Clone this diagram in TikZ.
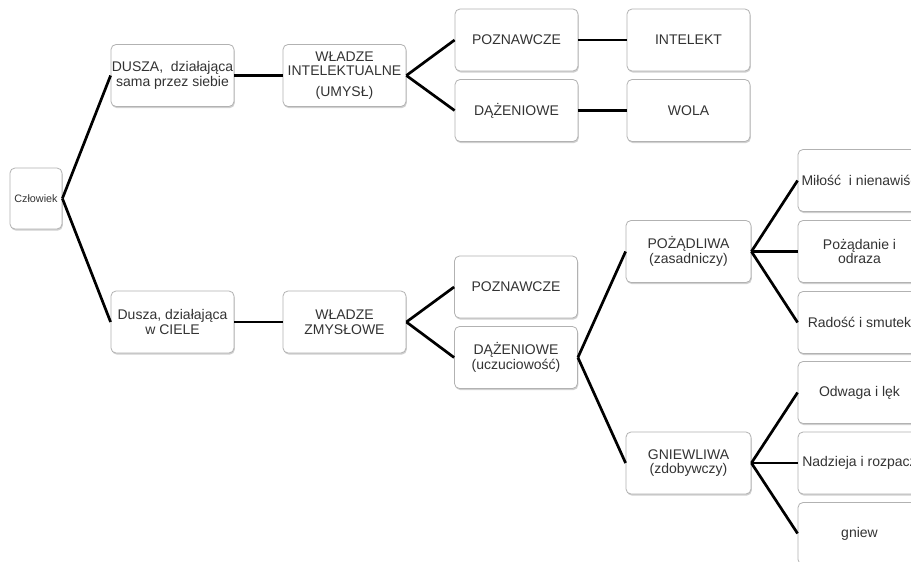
\documentclass[tikz,border=0pt]{standalone}
\usepackage{fontspec}
\setmainfont{Liberation Sans}
\usetikzlibrary{shadows}
\begin{document}
\begin{tikzpicture}[x=1pt,y=-1pt,
  box/.style={draw=black!30, line width=0.8pt, fill=white, rounded corners=5pt,
    minimum width=123pt, minimum height=62pt, inner sep=0pt, align=center,
    text=black!80, font=\fontsize{14}{14.5}\selectfont,
    drop shadow={shadow xshift=0.8pt, shadow yshift=-1.6pt, fill=black!30, opacity=0.6}},
  small/.style={box, minimum width=52pt, minimum height=61pt, font=\fontsize{10.8}{12}\selectfont},
  conn/.style={line width=2.7pt, black}]
\useasboundingbox (0,0) rectangle (911,562);
\clip (0,0) rectangle (911,562);
\fill[white] (0,0) rectangle (911,562);
% nodes
\node[small] (cz) at (36,198.5) {Człowiek};
\node[box] (dusza) at (172.5,75.5) {DUSZA,\ \ działająca\\sama przez siebie};
\node[box] (wint) at (344.5,75.5) {WŁADZE\\INTELEKTUALNE\\[6pt](UMYSŁ)};
\node[box] (pozn1) at (516.5,40) {POZNAWCZE};
\node[box] (daz1) at (516.5,110.5) {DĄŻENIOWE};
\node[box] (intel) at (688.5,40) {INTELEKT};
\node[box] (wola) at (688.5,110.5) {WOLA};
\node[box] (cial) at (172.5,322) {Dusza, działająca\\w CIELE};
\node[box] (wzm) at (344.5,322) {WŁADZE\\ZMYSŁOWE};
\node[box] (pozn2) at (516,287) {POZNAWCZE};
\node[box] (daz2) at (516,357.5) {DĄŻENIOWE\\(uczuciowość)};
\node[box, minimum width=125pt] (poz) at (688.5,251.5) {POŻĄDLIWA\\(zasadniczy)};
\node[box, minimum width=125pt] (gn) at (688.5,463) {GNIEWLIWA\\(zdobywczy)};
\node[box] (mil) at (859.5,180.5) {Miłość\ \ i nienawiść};
\node[box] (pod) at (859.5,251.5) {Pożądanie i\\odraza};
\node[box] (rad) at (859.5,322.5) {Radość i smutek};
\node[box] (odw) at (859.5,392.5) {Odwaga i lęk};
\node[box] (nad) at (859.5,463) {Nadzieja i rozpacz};
\node[box] (gniew) at (859.5,533.5) {gniew};
% connectors
\draw[conn] (cz.east) -- (dusza.west);
\draw[conn] (cz.east) -- (cial.west);
\draw[conn] (dusza.east) -- (wint.west);
\draw[conn] (wint.east) -- (pozn1.west);
\draw[conn] (wint.east) -- (daz1.west);
\draw[conn] (pozn1.east) -- (intel.west);
\draw[conn] (daz1.east) -- (wola.west);
\draw[conn] (cial.east) -- (wzm.west);
\draw[conn] (wzm.east) -- (pozn2.west);
\draw[conn] (wzm.east) -- (daz2.west);
\draw[conn] (daz2.east) -- (poz.west);
\draw[conn] (daz2.east) -- (gn.west);
\draw[conn] (poz.east) -- (mil.west);
\draw[conn] (poz.east) -- (pod.west);
\draw[conn] (poz.east) -- (rad.west);
\draw[conn] (gn.east) -- (odw.west);
\draw[conn] (gn.east) -- (nad.west);
\draw[conn] (gn.east) -- (gniew.west);
\end{tikzpicture}
\end{document}
